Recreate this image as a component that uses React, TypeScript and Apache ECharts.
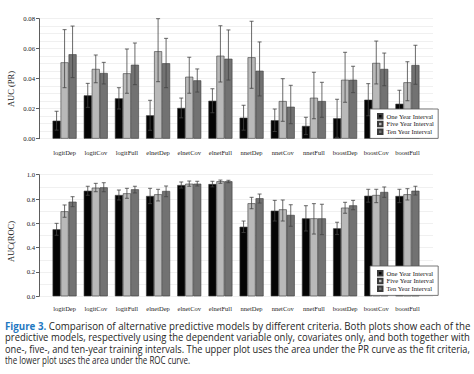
import React, { useEffect, useLayoutEffect, useRef } from "react";
import * as echarts from "echarts";

const categories = ["logitDep", "logitCov", "logitFull", "elnetDep", "elnetCov", "elnetFull", "nnetDep", "nnetCov", "nnetFull", "boostDep", "boostCov", "boostFull"];
const seriesNames = ["One Year Interval", "Five Year Interval", "Ten Year Interval"];

// AUC (PR)
const pr1 = [0.0120, 0.0289, 0.0269, 0.0156, 0.0205, 0.0253, 0.0140, 0.0123, 0.0085, 0.0136, 0.0260, 0.0233];
const pr1Hi = [0.0183, 0.0369, 0.0340, 0.0256, 0.0271, 0.0333, 0.0223, 0.0198, 0.0143, 0.0263, 0.0367, 0.0323];
const pr1Lo = [0.0057, 0.0209, 0.0198, 0.0056, 0.0139, 0.0173, 0.0057, 0.0048, 0.0027, 0.0009, 0.0153, 0.0143];
const pr5 = [0.0509, 0.0465, 0.0436, 0.0583, 0.0413, 0.0553, 0.0543, 0.0251, 0.0273, 0.0393, 0.0505, 0.0376];
const pr5Hi = [0.0727, 0.0558, 0.0598, 0.0800, 0.0543, 0.0753, 0.0783, 0.0400, 0.0443, 0.0576, 0.0651, 0.0513];
const pr5Lo = [0.0340, 0.0373, 0.0303, 0.0380, 0.0303, 0.0378, 0.0336, 0.0116, 0.0133, 0.0243, 0.0365, 0.0253];
const pr10 = [0.0563, 0.0438, 0.0493, 0.0503, 0.0389, 0.0533, 0.0453, 0.0213, 0.0251, 0.0393, 0.0465, 0.0491];
const pr10Hi = [0.0751, 0.0509, 0.0638, 0.0669, 0.0465, 0.0725, 0.0645, 0.0356, 0.0376, 0.0483, 0.0571, 0.0623];
const pr10Lo = [0.0407, 0.0365, 0.0360, 0.0340, 0.0311, 0.0391, 0.0285, 0.0100, 0.0143, 0.0307, 0.0353, 0.0363];

// AUC (ROC)
const roc1 = [0.551, 0.868, 0.833, 0.825, 0.915, 0.923, 0.572, 0.704, 0.641, 0.559, 0.827, 0.825];
const roc1Hi = [0.600, 0.905, 0.874, 0.888, 0.940, 0.946, 0.619, 0.789, 0.745, 0.609, 0.880, 0.880];
const roc1Lo = [0.502, 0.831, 0.792, 0.762, 0.890, 0.900, 0.525, 0.619, 0.537, 0.509, 0.774, 0.770];
const roc5 = [0.699, 0.893, 0.847, 0.839, 0.926, 0.946, 0.765, 0.715, 0.641, 0.729, 0.833, 0.839];
const roc5Hi = [0.751, 0.929, 0.888, 0.880, 0.948, 0.956, 0.814, 0.792, 0.762, 0.773, 0.880, 0.885];
const roc5Lo = [0.650, 0.860, 0.806, 0.784, 0.905, 0.929, 0.720, 0.619, 0.512, 0.683, 0.770, 0.792];
const roc10 = [0.778, 0.896, 0.880, 0.866, 0.926, 0.946, 0.806, 0.669, 0.641, 0.748, 0.858, 0.868];
const roc10Hi = [0.819, 0.934, 0.905, 0.907, 0.946, 0.954, 0.841, 0.753, 0.757, 0.789, 0.899, 0.905];
const roc10Lo = [0.737, 0.860, 0.850, 0.819, 0.907, 0.934, 0.767, 0.576, 0.507, 0.712, 0.814, 0.833];

const captionLines = [
  "Comparison of alternative predictive models by different criteria. Both plots show each of the",
  "predictive models, respectively using the dependent variable only, covariates only, and both together with",
  "one-, five-, and ten-year training intervals. The upper plot uses the area under the PR curve as the fit criteria,",
  "the lower plot uses the area under the ROC curve.",
];

const colors = ["#050505", "#b9b9b9", "#727272"];
const serif = "Liberation Serif";

export default function App() {
  const ref = useRef<HTMLDivElement>(null);
  const capRefs = useRef<(HTMLSpanElement | null)[]>([]);

  useLayoutEffect(() => {
    const targets = [465, 465, 465, 185];
    capRefs.current.forEach((el, k) => {
      if (!el) return;
      const w = el.offsetWidth;
      if (w > 0) el.style.transform = `scaleX(${targets[k] / w})`;
    });
  }, []);

  useEffect(() => {
    document.body.style.margin = "0";
    const chart = echarts.init(ref.current!, null, { renderer: "svg" });

    const barW = 8;
    const offsets = [-barW, 0, barW];

    const dispY = (min: number, max: number, interval: number, digits: number, gridIndex: number, minorSplit: number) => ({
      type: "value",
      gridIndex,
      min,
      max,
      interval,
      axisLine: { show: true, lineStyle: { color: "#333", width: 0.8 } },
      axisTick: { show: true, length: 3, lineStyle: { color: "#333", width: 0.8 } },
      axisLabel: {
        fontFamily: serif,
        fontSize: 6.7,
        color: "#222",
        margin: 4,
        formatter: (v: number) => v.toFixed(digits),
      },
      splitLine: { show: true, lineStyle: { color: "#ececec", width: 0.8 } },
      minorTick: { show: false, splitNumber: minorSplit },
      minorSplitLine: { show: true, lineStyle: { color: "#ececec", width: 0.8 } },
    });

    const hiddenY = (min: number, max: number, gridIndex: number) => ({
      type: "value",
      gridIndex,
      min,
      max,
      show: false,
      splitLine: { show: false },
    });

    const catX = (gridIndex: number, margin: number) => ({
      type: "category",
      gridIndex,
      data: categories,
      axisLine: { show: false },
      axisTick: { show: false },
      axisLabel: { fontFamily: serif, fontSize: 6.5, color: "#222", margin, interval: 0 },
      splitLine: { show: false },
    });

    const series: any[] = [];
    const addPanel = (vals: number[][], los: number[][], his: number[][], axisIdx: number) => {
      vals.forEach((v, k) => {
        series.push({
          type: "bar",
          name: seriesNames[k],
          xAxisIndex: axisIdx,
          yAxisIndex: axisIdx,
          data: v,
          barWidth: barW,
          barGap: "0%",
          itemStyle: { color: colors[k], borderColor: "#3a3a3a", borderWidth: 0.6 },
          z: 2,
        });
      });
      vals.forEach((v, k) => {
        const lo = los[k];
        const hi = his[k];
        series.push({
          type: "custom",
          name: "err-" + axisIdx + "-" + k,
          xAxisIndex: axisIdx,
          yAxisIndex: axisIdx,
          z: 3,
          data: categories.map((_, i) => [i, lo[i], hi[i]]),
          encode: { x: 0, y: [1, 2] },
          renderItem: (params: any, api: any) => {
            const i = api.value(0);
            const top = api.coord([i, api.value(2)]);
            const bot = api.coord([i, api.value(1)]);
            const x = top[0] + offsets[k];
            const cw = 2;
            const style = { stroke: "#444", lineWidth: 0.8 };
            return {
              type: "group",
              children: [
                { type: "line", shape: { x1: x, y1: top[1], x2: x, y2: bot[1] }, style },
                { type: "line", shape: { x1: x - cw, y1: top[1], x2: x + cw, y2: top[1] }, style },
                { type: "line", shape: { x1: x - cw, y1: bot[1], x2: x + cw, y2: bot[1] }, style },
              ],
            };
          },
        });
      });
    };

    addPanel([pr1, pr5, pr10], [pr1Lo, pr5Lo, pr10Lo], [pr1Hi, pr5Hi, pr10Hi], 1);
    addPanel([roc1, roc5, roc10], [roc1Lo, roc5Lo, roc10Lo], [roc1Hi, roc5Hi, roc10Hi], 3);

    const legendBase = (top: number) => ({
      orient: "vertical",
      left: 370,
      top,
      data: seriesNames,
      icon: "rect",
      itemWidth: 4.5,
      itemHeight: 4.5,
      itemGap: 0.5,
      padding: [3.5, 4, 3, 7],
      backgroundColor: "#fff",
      borderColor: "#555",
      borderWidth: 0.8,
      borderRadius: 0,
      selectedMode: false,
      textStyle: { fontFamily: serif, fontSize: 6.6, color: "#222", lineHeight: 7.3, padding: [0, 0, 0, -1] },
      z: 10,
    });

    const yTitle = (text: string, x: number, y: number) => ({
      type: "text",
      x,
      y,
      rotation: Math.PI / 2,
      style: { text, fontFamily: serif, fontSize: 8.5, fill: "#222", align: "center", verticalAlign: "middle" },
    });

    chart.setOption({
      animation: false,
      grid: [
        { left: 39, top: 18.7, width: 394, height: 120 },
        { left: 49, top: 18.7, width: 374, height: 120 },
        { left: 39, top: 174.7, width: 394, height: 121.6 },
        { left: 49, top: 174.7, width: 374, height: 121.6 },
      ],
      xAxis: [
        { type: "value", gridIndex: 0, show: false, min: 0, max: 1, splitLine: { show: false } },
        catX(1, 10),
        { type: "value", gridIndex: 2, show: false, min: 0, max: 1, splitLine: { show: false } },
        catX(3, 9),
      ],
      yAxis: [
        dispY(0, 0.08, 0.02, 2, 0, 4),
        hiddenY(0, 0.08, 1),
        dispY(0, 1, 0.2, 1, 2, 2),
        hiddenY(0, 1, 3),
      ],
      legend: [legendBase(109), legendBase(266)],
      graphic: [yTitle("AUC (PR)", 10.5, 89), yTitle("AUC(ROC)", 11, 241.5)],
      series,
    });
    return () => chart.dispose();
  }, []);

  return (
    <div style={{ position: "relative", width: 474, height: 374, overflow: "hidden", background: "#fff" }}>
      <div ref={ref} style={{ position: "absolute", left: 0, top: 0, width: 474, height: 374 }} />
      {captionLines.map((t, k) => (
        <span
          key={k}
          ref={(el) => {
            capRefs.current[k] = el;
          }}
          style={{
            position: "absolute",
            left: 5,
            top: 320.5 + k * 11.65,
            display: "inline-block",
            transformOrigin: "left top",
            whiteSpace: "nowrap",
            fontFamily: "'Open Sans', sans-serif",
            fontSize: 10,
            lineHeight: "11.6px",
            color: "#262626",
          }}
        >
          {k === 0 ? <span style={{ color: "#1f78c1", fontWeight: 700 }}>Figure 3. </span> : null}
          {t}
        </span>
      ))}
    </div>
  );
}
